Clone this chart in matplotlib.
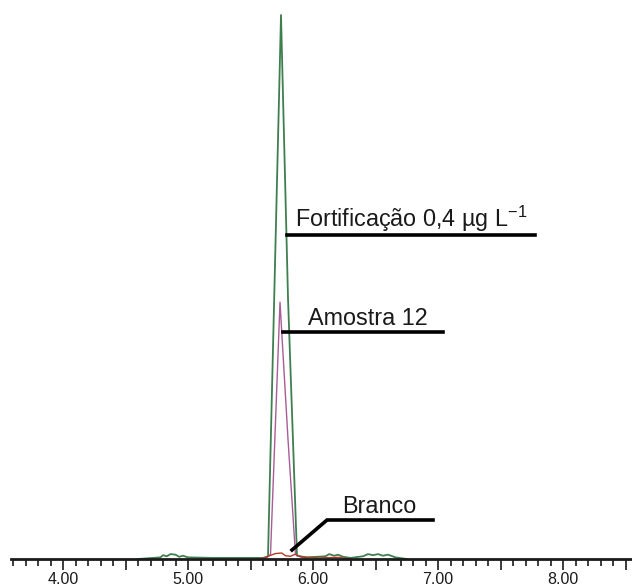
import matplotlib
matplotlib.use("Agg")
import matplotlib.pyplot as plt
from matplotlib.ticker import FixedLocator

plt.rcParams['font.family'] = ['Liberation Sans', 'DejaVu Sans']
plt.rcParams['mathtext.fontset'] = 'custom'
plt.rcParams['mathtext.rm'] = 'Liberation Sans'

# Retention time (min) and relative intensity
fort_x = [4.60, 4.78, 4.80, 4.83, 4.86, 4.90, 4.93, 4.96, 5.00, 5.20, 5.60, 5.64, 5.744, 5.80, 5.872,
          5.95, 6.10, 6.13, 6.17, 6.20, 6.24, 6.30, 6.40, 6.44, 6.48, 6.52, 6.56, 6.60, 6.66, 6.75]
fort_y = [0.0, 0.3, 0.7, 0.5, 0.9, 0.8, 0.4, 0.6, 0.3, 0.2, 0.2, 0.5, 100.0, 48.0, 0.6,
          0.3, 0.5, 0.9, 0.6, 0.8, 0.4, 0.2, 0.5, 0.9, 0.7, 0.9, 0.6, 0.8, 0.3, 0.0]
amostra_x = [5.55, 5.62, 5.66, 5.736, 5.80, 5.86, 5.95]
amostra_y = [0.0, 0.2, 0.8, 47.2, 22.0, 0.8, 0.0]
branco_x = [5.55, 5.62, 5.65, 5.70, 5.75, 5.78, 5.82, 5.86, 5.90, 5.95, 6.05, 6.20, 6.30]
branco_y = [0.0, 0.2, 0.6, 1.0, 1.1, 0.6, 0.5, 0.9, 0.4, 0.3, 0.2, 0.3, 0.0]

labels = ['Fortificação 0,4 µg L$^{\\mathregular{-1}}$', 'Amostra 12', 'Branco']
major_ticks = [3.5, 4.0, 4.5, 5.0, 5.5, 6.0, 6.5, 7.0, 7.5, 8.0, 8.5]
tick_labels = ['', '4.00', '', '5.00', '', '6.00', '', '7.00', '', '8.00', '']

W, H = 632, 586
BASE = 559  # pixel row of the axis line
fig = plt.figure(figsize=(W / 100, H / 100), dpi=100)
ax = fig.add_axes([11 / W, (H - BASE) / H, 621 / W, BASE / H])
x0 = 4 - 52 / 125
x1 = 4 + 569 / 125
ax.set_xlim(x0, x1)
ax.set_ylim(0, BASE / (BASE - 15) * 100)

ax.plot(fort_x, fort_y, color='#3f7f4f', lw=1.3, zorder=2)
ax.plot(amostra_x, amostra_y, color='#a85c98', lw=1.0, zorder=3)
ax.plot(branco_x, branco_y, color='#b03a2a', lw=1.0, zorder=4)

for s in ['top', 'left', 'right']:
    ax.spines[s].set_visible(False)
ax.spines['bottom'].set_linewidth(2.0)
ax.spines['bottom'].set_color('#1a1a1a')
ax.spines['bottom'].set_zorder(5)
ax.set_yticks([])

ax.xaxis.set_major_locator(FixedLocator(major_ticks))
ax.set_xticklabels(tick_labels)
minor = [round(3.6 + 0.1 * i, 2) for i in range(50)]
ax.xaxis.set_minor_locator(FixedLocator([m for m in minor if m not in major_ticks]))
ax.tick_params(axis='x', which='major', direction='out', length=8, width=1.2,
               labelsize=11.5, pad=1.5, colors='#1a1a1a')
ax.tick_params(axis='x', which='minor', direction='out', length=5, width=1.2, colors='#1a1a1a')


def px2x(px):
    return 4 + (px - 63) / 125


def py2y(py):
    return (BASE - py) / (BASE - 15) * 100


lw_ann = 2.6
# Fortificação
ax.plot([px2x(287), px2x(535)], [py2y(235), py2y(235)], color='black', lw=lw_ann, clip_on=False, zorder=6)
ax.text(px2x(295), py2y(227), labels[0], fontsize=16.8, va='baseline', ha='left', color='#1a1a1a')
# Amostra 12
ax.plot([px2x(283), px2x(443)], [py2y(332), py2y(332)], color='black', lw=lw_ann, clip_on=False, zorder=6)
ax.text(px2x(308), py2y(325), labels[1], fontsize=16.8, va='baseline', ha='left', color='#1a1a1a')
# Branco
ax.plot([px2x(292), px2x(327), px2x(433)], [py2y(550), py2y(520), py2y(520)], color='black',
        lw=lw_ann, clip_on=False, zorder=6, solid_joinstyle='miter')
ax.text(px2x(342), py2y(513), labels[2], fontsize=16.8, va='baseline', ha='left', color='#1a1a1a')

fig.savefig('out.png', dpi=100)
